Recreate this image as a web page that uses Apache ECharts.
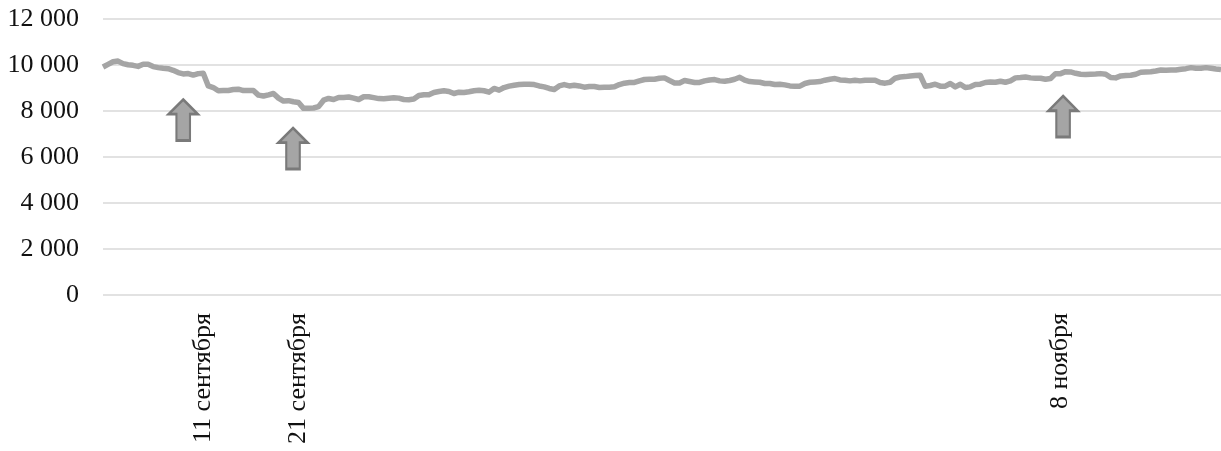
<!DOCTYPE html>
<html><head><meta charset="utf-8">
<style>html,body{margin:0;padding:0;background:#fff}#c{width:1221px;height:451px}</style>
<script src="https://cdn.jsdelivr.net/npm/echarts@6/dist/echarts.min.js"></script>
</head><body><div id="c"></div>
<script>
const values = [9914,10030,10140,10170,10060,10010,9985,9940,10030,10030,9930,9885,9855,9840,9770,9670,9610,9630,9560,9625,9640,9090,9020,8880,8890,8890,8935,8950,8890,8890,8890,8690,8650,8700,8760,8560,8430,8450,8400,8370,8115,8115,8130,8190,8470,8545,8500,8590,8590,8610,8560,8500,8620,8620,8580,8540,8530,8555,
8575,8560,8500,8490,8520,8675,8705,8705,8805,8850,8880,8850,8760,8820,8805,8835,8880,8905,8880,8820,8980,8905,9020,9080,9120,9150,9165,9165,9150,9090,9050,8980,8935,9090,9150,9090,9120,9090,9035,9065,9065,9020,9035,9035,9050,9150,9210,9240,9240,9310,9370,9380,9380,9425,9440,9325,9220,9220,9325,9280,
9240,9240,9310,9350,9365,9310,9295,9325,9380,9465,9340,9280,9265,9250,9195,9195,9150,9165,9135,9090,9080,9080,9195,9250,9265,9280,9340,9380,9410,9350,9340,9310,9340,9310,9340,9340,9340,9240,9210,9250,9425,9480,9495,9525,9540,9555,9080,9110,9165,9080,9080,9195,9050,9165,9020,9050,9150,9165,9240,9265,
9250,9295,9250,9310,9440,9455,9480,9440,9425,9425,9380,9410,9625,9625,9710,9700,9640,9600,9585,9600,9610,9625,9600,9455,9440,9525,9540,9555,9600,9685,9700,9710,9740,9785,9770,9785,9785,9815,9840,9885,9855,9855,9885,9855,9825,9800];
const labelIndex = [20, 39, 191];
const labelText = ['11 сентября', '21 сентября', '8 ноября'];
const arrowIndex = [16, 37.9, 191.5];
const arrowValue = [7610, 6370, 7760];
const yTicks = [0, 2000, 4000, 6000, 8000, 10000, 12000];
const categories = values.map((v, i) => { const k = labelIndex.indexOf(i); return k >= 0 ? labelText[k] : ''; });
const FONT = '"Liberation Serif","Times New Roman",serif';
const chart = echarts.init(document.getElementById('c'), null, {renderer:'canvas'});
chart.setOption({
  animation:false, backgroundColor:'#fff',
  grid:{left:103,right:0,top:19,bottom:156},
  xAxis:[{type:'category',data:categories,boundaryGap:false,
    axisLine:{show:false},axisTick:{show:false},splitLine:{show:false},
    axisLabel:{interval:0,rotate:90,margin:18,fontFamily:FONT,fontSize:26,color:'#111',hideOverlap:false}},
    {type:'value',min:0,max:values.length-1,show:false}],
  yAxis:{type:'value',min:yTicks[0],max:yTicks[yTicks.length-1],interval:2000,
    axisLine:{show:false},axisTick:{show:false},
    splitLine:{lineStyle:{color:'#d9d9d9',width:1.5}},
    axisLabel:{margin:24,fontFamily:FONT,fontSize:26,color:'#111',
      formatter:v=>String(v).replace(/\B(?=(\d{3})+$)/g,' ')}},
  series:[{type:'line',data:values,showSymbol:false,symbol:'none',smooth:false,
    lineStyle:{color:'#a5a5a5',width:5.5,join:'round'}},
    {type:'scatter',xAxisIndex:1,silent:true,
     symbol:'path://M15 0 L30 15 L22 15 L22 42 L8 42 L8 15 L0 15 Z',symbolSize:[29,41],
     itemStyle:{color:'#a5a5a5',borderColor:'#7a7a7a',borderWidth:2.5,opacity:1},
     data:arrowIndex.map((x,i)=>[x,arrowValue[i]])}]
});
</script></body></html>
